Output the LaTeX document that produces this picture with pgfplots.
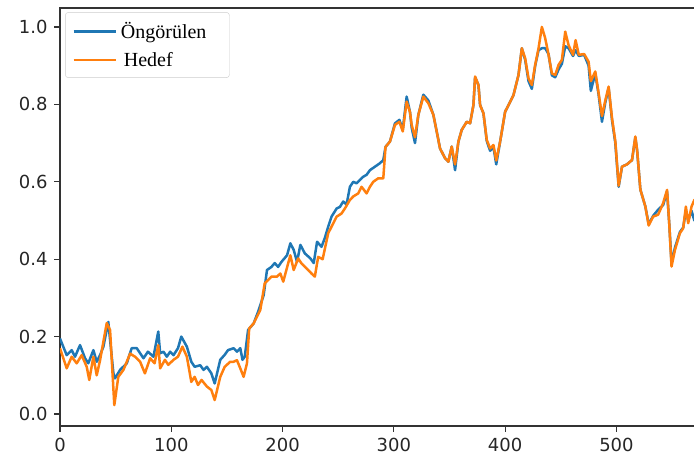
\documentclass[border=0pt]{standalone}
\usepackage{fontspec}
\setmainfont{DejaVu Sans}
\newfontfamily\legfont{Liberation Serif}
\usepackage{pgfplots}
\pgfplotsset{compat=1.18}
\definecolor{mblue}{HTML}{1F77B4}
\definecolor{morange}{HTML}{FF7F0E}

\begin{document}
\begin{tikzpicture}
\useasboundingbox (0pt,0pt) rectangle (694pt,461pt);
\begin{axis}[
    at={(60pt,35pt)}, anchor=south west,
    scale only axis, width=641pt, height=418pt,
    xmin=0, xmax=576, ymin=-0.031, ymax=1.049,
    xtick={0,100,...,500},
    ytick={0,0.2,0.4,0.6,0.8,1.0},
    yticklabel style={/pgf/number format/fixed, /pgf/number format/fixed zerofill,
        /pgf/number format/precision=1, xshift=-3pt},
    /pgf/number format/assume math mode=true,
    tick label style={font=\fontsize{18}{20}\selectfont, text=black!85},
    xtick pos=bottom, ytick pos=left,
    tick align=outside, major tick length=6pt,
    tick style={black!80, line width=1.1pt},
    axis line style={black!80, line width=1.3pt},
    xticklabel style={yshift=-3pt},
    legend cell align=left,
    legend image code/.code={\draw[#1, line width=2.6pt] (0pt,0pt) -- (42pt,0pt);},
    legend style={at={(0.008,0.99)}, anchor=north west,
        draw=black!20, rounded corners=3pt, fill=white,
        font=\fontsize{20}{22}\legfont, inner xsep=7pt, inner ysep=8pt,
        row sep=8pt, nodes={inner xsep=4pt}},
    every axis plot/.append style={line width=2.5pt, line join=round},
]
\addplot[mblue] coordinates {
(0,0.195) (6,0.152) (10.5,0.165) (13.5,0.148) (18,0.178) (22.5,0.144) (25.4,0.131)
(30,0.165) (33,0.135) (36,0.152) (39,0.174) (43.4,0.238) (48,0.105) (49.4,0.092)
(54,0.114) (60,0.131) (64.4,0.170) (69,0.170) (72,0.157) (75,0.144) (79,0.161)
(84,0.148) (88.3,0.213) (90,0.157) (93,0.161) (96,0.148) (99,0.161) (102,0.152)
(106,0.170) (109,0.200) (114,0.174) (118,0.135) (121,0.122) (126,0.126) (129,0.114)
(132,0.122) (136,0.105) (139,0.079) (144,0.140) (148,0.153) (151,0.165) (156,0.170)
(159,0.161) (162,0.170) (164,0.140) (166,0.148) (169,0.217) (174,0.234) (178,0.264)
(183,0.307) (186,0.372) (190,0.380) (193,0.390) (196,0.380) (199,0.393) (204,0.410)
(207,0.441) (210,0.424) (213,0.393) (216,0.437) (220,0.415) (225,0.402) (228,0.390)
(231,0.445) (235,0.432) (238,0.455) (241,0.484) (244,0.510) (248.6,0.531) (251.5,0.535)
(254.5,0.549) (257.5,0.541) (260.5,0.587) (263.5,0.600) (266.5,0.596) (269.5,0.605)
(272.5,0.613) (275.5,0.618) (278.5,0.630) (283,0.639) (287.5,0.648) (290.5,0.656)
(292.5,0.690) (296.5,0.704) (301,0.751) (305,0.760) (308,0.735) (311.5,0.820)
(314.5,0.780) (316,0.740) (319,0.700) (322,0.773) (326.5,0.825) (331,0.810)
(335.5,0.773) (338.5,0.730) (341.5,0.686) (346,0.661) (349,0.652) (352,0.691)
(355,0.630) (358,0.704) (361,0.734) (365.5,0.755) (368.5,0.751) (371.5,0.798)
(373,0.870) (376,0.850) (377.5,0.798) (380.5,0.777) (383.5,0.705) (386.5,0.680)
(389.5,0.690) (392,0.645) (395.5,0.704) (400,0.781) (403,0.798) (407.5,0.824)
(412,0.876) (415,0.945) (418,0.915) (421,0.860) (424,0.840) (427,0.900) (430,0.940)
(433,0.945) (436,0.945) (439,0.930) (442,0.875) (445,0.870) (448,0.890) (451,0.905)
(454,0.950) (457,0.945) (461,0.925) (463.3,0.940) (466.2,0.925) (471,0.928)
(475,0.900) (477,0.835) (481,0.880) (484,0.825) (487,0.755) (490,0.805) (493,0.842)
(496,0.760) (499,0.700) (502,0.587) (505,0.639) (509.5,0.645) (514,0.656)
(517,0.715) (518.6,0.680) (521.5,0.580) (526,0.536) (529,0.490) (533,0.512)
(537.5,0.528) (542,0.540) (545.5,0.575) (547.5,0.490) (549.5,0.390) (552.6,0.430)
(557,0.470) (560,0.482) (562.4,0.525) (564.5,0.500) (567.5,0.525) (570,0.500) (572,0.505)
};
\addlegendentry{Öngörülen\hspace*{12pt}\null}
\addplot[morange] coordinates {
(0,0.170) (6,0.118) (10.5,0.148) (15,0.131) (19.5,0.152) (24,0.122) (26.3,0.088)
(30,0.148) (33,0.100) (36,0.139) (42,0.235) (45,0.217) (48.8,0.023) (52.4,0.096)
(57,0.114) (63,0.156) (67.4,0.148) (72,0.135) (76.3,0.105) (81,0.144) (85,0.131)
(88.3,0.178) (90,0.118) (94.3,0.140) (97.3,0.127) (102,0.140) (106,0.148) (110,0.174)
(114,0.148) (118,0.083) (121,0.096) (124,0.075) (127.2,0.088) (132,0.071) (136,0.062)
(139,0.036) (144,0.096) (148,0.122) (153,0.135) (156,0.135) (159,0.139) (162,0.118)
(165,0.096) (168,0.131) (170,0.221) (174,0.234) (180,0.269) (184,0.338) (187,0.346)
(190,0.355) (195,0.355) (198,0.363) (200.6,0.342) (205,0.389) (207,0.410) (210,0.372)
(214,0.402) (217,0.389) (221.6,0.376) (226,0.363) (229,0.355) (232,0.406) (236,0.400)
(241,0.467) (244,0.484) (248.6,0.510) (253,0.518) (256,0.531) (260.5,0.553)
(263.5,0.562) (268,0.570) (271,0.587) (275.5,0.570) (278.5,0.587) (281.5,0.600)
(286,0.609) (290.5,0.609) (292.5,0.690) (296.5,0.704) (301,0.747) (305,0.755)
(308,0.730) (311.5,0.807) (314.5,0.780) (316,0.747) (319,0.715) (322,0.773)
(326.5,0.820) (331,0.803) (335.5,0.773) (338.5,0.730) (341.5,0.686) (346,0.661)
(349,0.652) (352,0.691) (355,0.645) (358,0.704) (361,0.734) (365.5,0.755)
(368.5,0.751) (371.5,0.798) (373,0.872) (376,0.850) (377.5,0.798) (380.5,0.777)
(383.5,0.708) (386.5,0.686) (389.5,0.695) (392,0.655) (395.5,0.704) (400,0.781)
(403,0.798) (407.5,0.824) (412,0.876) (415,0.945) (418,0.919) (421,0.867) (424,0.850)
(427,0.902) (430,0.945) (433,1.000) (436,0.971) (439,0.928) (442,0.880) (445,0.876)
(448,0.902) (451,0.915) (454,0.988) (457,0.953) (461,0.928) (463.3,0.966)
(466.2,0.928) (471,0.930) (475,0.910) (477,0.860) (481,0.885) (484,0.829) (487,0.770)
(490,0.810) (493,0.846) (496,0.765) (499,0.705) (502,0.590) (505,0.639) (509.5,0.645)
(514,0.656) (517,0.717) (518.6,0.682) (521.5,0.580) (526,0.536) (529,0.487)
(533,0.510) (537.5,0.515) (542,0.545) (545.5,0.579) (547.5,0.490) (549.5,0.381)
(552.6,0.424) (557,0.467) (560,0.480) (562.4,0.536) (564.5,0.493) (567.5,0.536)
(570,0.553) (572,0.550)
};
\addlegendentry{\hspace*{3pt}Hedef}
\end{axis}
\end{tikzpicture}
\end{document}
